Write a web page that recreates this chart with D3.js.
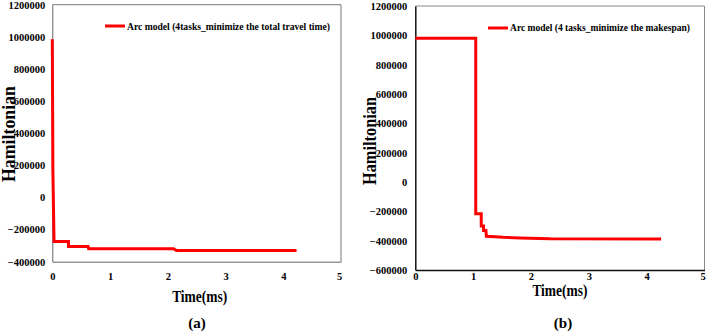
<!DOCTYPE html>
<html>
<head>
<meta charset="utf-8">
<script src="https://cdn.jsdelivr.net/npm/d3@7"></script>
<style>
  html, body { margin: 0; padding: 0; background: #fff; }
  svg { display: block; }
  text { font-family: "Liberation Serif", "Times New Roman", serif; font-weight: bold; fill: #000; }
</style>
</head>
<body>
<svg id="chart" width="706" height="335"></svg>
<script>
// ---------- data ----------
const timeA = [0, 0.01, 0.03, 0.28, 0.28, 0.62, 0.63, 2.10, 2.15, 4.23];
const hamA  = [985000, 170000, -275000, -275000, -306000, -306000, -319000, -319000, -331000, -331000];
const timeB = [0, 1.045, 1.045, 1.14, 1.14, 1.18, 1.18, 1.22, 1.23, 1.52, 1.81, 2.33, 4.25];
const hamB  = [980000, 980000, -216000, -216000, -300000, -300000, -331000, -331000, -370000, -377000, -381000, -387000, -388000];
const xTicks = [0, 1, 2, 3, 4, 5];
const yTicksA = [-400000, -200000, 0, 200000, 400000, 600000, 800000, 1000000, 1200000];
const yTicksB = [-600000, -400000, -200000, 0, 200000, 400000, 600000, 800000, 1000000, 1200000];
const legendA = "Arc model (4tasks_minimize the total travel time)";
const legendB = "Arc model (4 tasks_minimize the makespan)";
const xTitle = "Time(ms)";
const yTitle = "Hamiltonian";
const captionA = "(a)";
const captionB = "(b)";

const svg = d3.select("#chart");

function panel(cfg) {
  const g = svg.append("g");
  const x = d3.scaleLinear().domain([0, 5]).range([cfg.left, cfg.right]);
  const y = d3.scaleLinear().domain([cfg.yMin, 1200000]).range([cfg.bottom, cfg.top]);

  // box
  g.append("line").attr("x1", cfg.left).attr("x2", cfg.right).attr("y1", cfg.top).attr("y2", cfg.top)
    .attr("stroke", cfg.boxColor).attr("stroke-width", 1);
  g.append("line").attr("x1", cfg.right).attr("x2", cfg.right).attr("y1", cfg.top).attr("y2", cfg.bottom)
    .attr("stroke", cfg.boxColor).attr("stroke-width", 1);

  // axes (no tick marks)
  const yAxis = d3.axisLeft(y).tickValues(cfg.yTicks).tickSize(0).tickPadding(cfg.yPad).tickFormat(d3.format("d"));
  const ya = g.append("g").attr("transform", `translate(${cfg.left},0)`).call(yAxis);
  ya.attr("font-family", null);
  ya.select(".domain").attr("stroke", cfg.axisColor).attr("stroke-width", cfg.axisWidth);
  ya.selectAll("text").style("font-family", '"Liberation Serif", serif').style("font-weight", "bold")
    .style("font-size", cfg.tickFont + "px").attr("fill", "#000");

  const xAxis = d3.axisBottom(x).tickValues(xTicks).tickSize(0).tickPadding(cfg.xPad).tickFormat(d3.format("d"));
  const xa = g.append("g").attr("transform", `translate(0,${cfg.bottom})`).call(xAxis);
  xa.attr("font-family", null);
  xa.select(".domain").attr("stroke", cfg.axisColor).attr("stroke-width", cfg.axisWidth);
  xa.selectAll("text").style("font-family", '"Liberation Serif", serif').style("font-weight", "bold")
    .style("font-size", cfg.tickFont + "px").attr("fill", "#000")
    .attr("dx", d => d === 5 ? -2 : 0);

  // series
  const pts = cfg.xs.map((t, i) => [t, cfg.ys[i]]);
  g.append("path").datum(pts)
    .attr("fill", "none").attr("stroke", "#ff0000").attr("stroke-width", 3)
    .attr("stroke-linejoin", "miter")
    .attr("d", d3.line().x(d => x(d[0])).y(d => y(d[1])));

  // legend
  g.append("line").attr("x1", cfg.legX).attr("x2", cfg.legX + 20).attr("y1", cfg.legY).attr("y2", cfg.legY)
    .attr("stroke", "#ff0000").attr("stroke-width", 3);
  g.append("text").attr("x", cfg.legX + 22).attr("y", cfg.legY).attr("dy", "0.35em")
    .style("font-size", cfg.legFont + "px").attr("textLength", cfg.legLen).attr("lengthAdjust", "spacingAndGlyphs")
    .text(cfg.legend);

  // titles
  g.append("text").attr("x", (cfg.left + cfg.right) / 2 + cfg.xTitleDx).attr("y", cfg.xTitleY)
    .attr("text-anchor", "middle").attr("dy", "0.35em").style("font-size", "17px")
    .attr("textLength", 55).attr("lengthAdjust", "spacingAndGlyphs").text(xTitle);
  g.append("text").attr("transform", `translate(${cfg.yTitleX},${cfg.yTitleY}) rotate(-90)`)
    .attr("text-anchor", "middle").style("font-size", "18px")
    .attr("textLength", cfg.yTitleLen).attr("lengthAdjust", "spacingAndGlyphs").text(yTitle);
  g.append("text").attr("x", cfg.capX).attr("y", 323).attr("text-anchor", "middle").attr("dy", "0.35em")
    .style("font-size", "15px").text(cfg.caption);
}

panel({
  left: 52.3, right: 341, top: 4.7, bottom: 261.7, yMin: -400000, yTicks: yTicksA,
  xs: timeA, ys: hamA, boxColor: "#777", axisColor: "#666", axisWidth: 1,
  tickFont: 10.5, yPad: 7, xPad: 11,
  legX: 105, legY: 26, legLen: 203, legFont: 11, legend: legendA,
  xTitleDx: 3, xTitleY: 296, yTitleX: 15, yTitleY: 134, yTitleLen: 96,
  capX: 197, caption: captionA
});

panel({
  left: 415.3, right: 704.5, top: 6, bottom: 270, yMin: -600000, yTicks: yTicksB,
  xs: timeB, ys: hamB, boxColor: "#888", axisColor: "#111", axisWidth: 1.5,
  tickFont: 10.5, yPad: 8, xPad: 3,
  legX: 488, legY: 28, legLen: 180, legFont: 9.3, legend: legendB,
  xTitleDx: 0, xTitleY: 290, yTitleX: 376, yTitleY: 141, yTitleLen: 88,
  capX: 563, caption: captionB
});
</script>
</body>
</html>
